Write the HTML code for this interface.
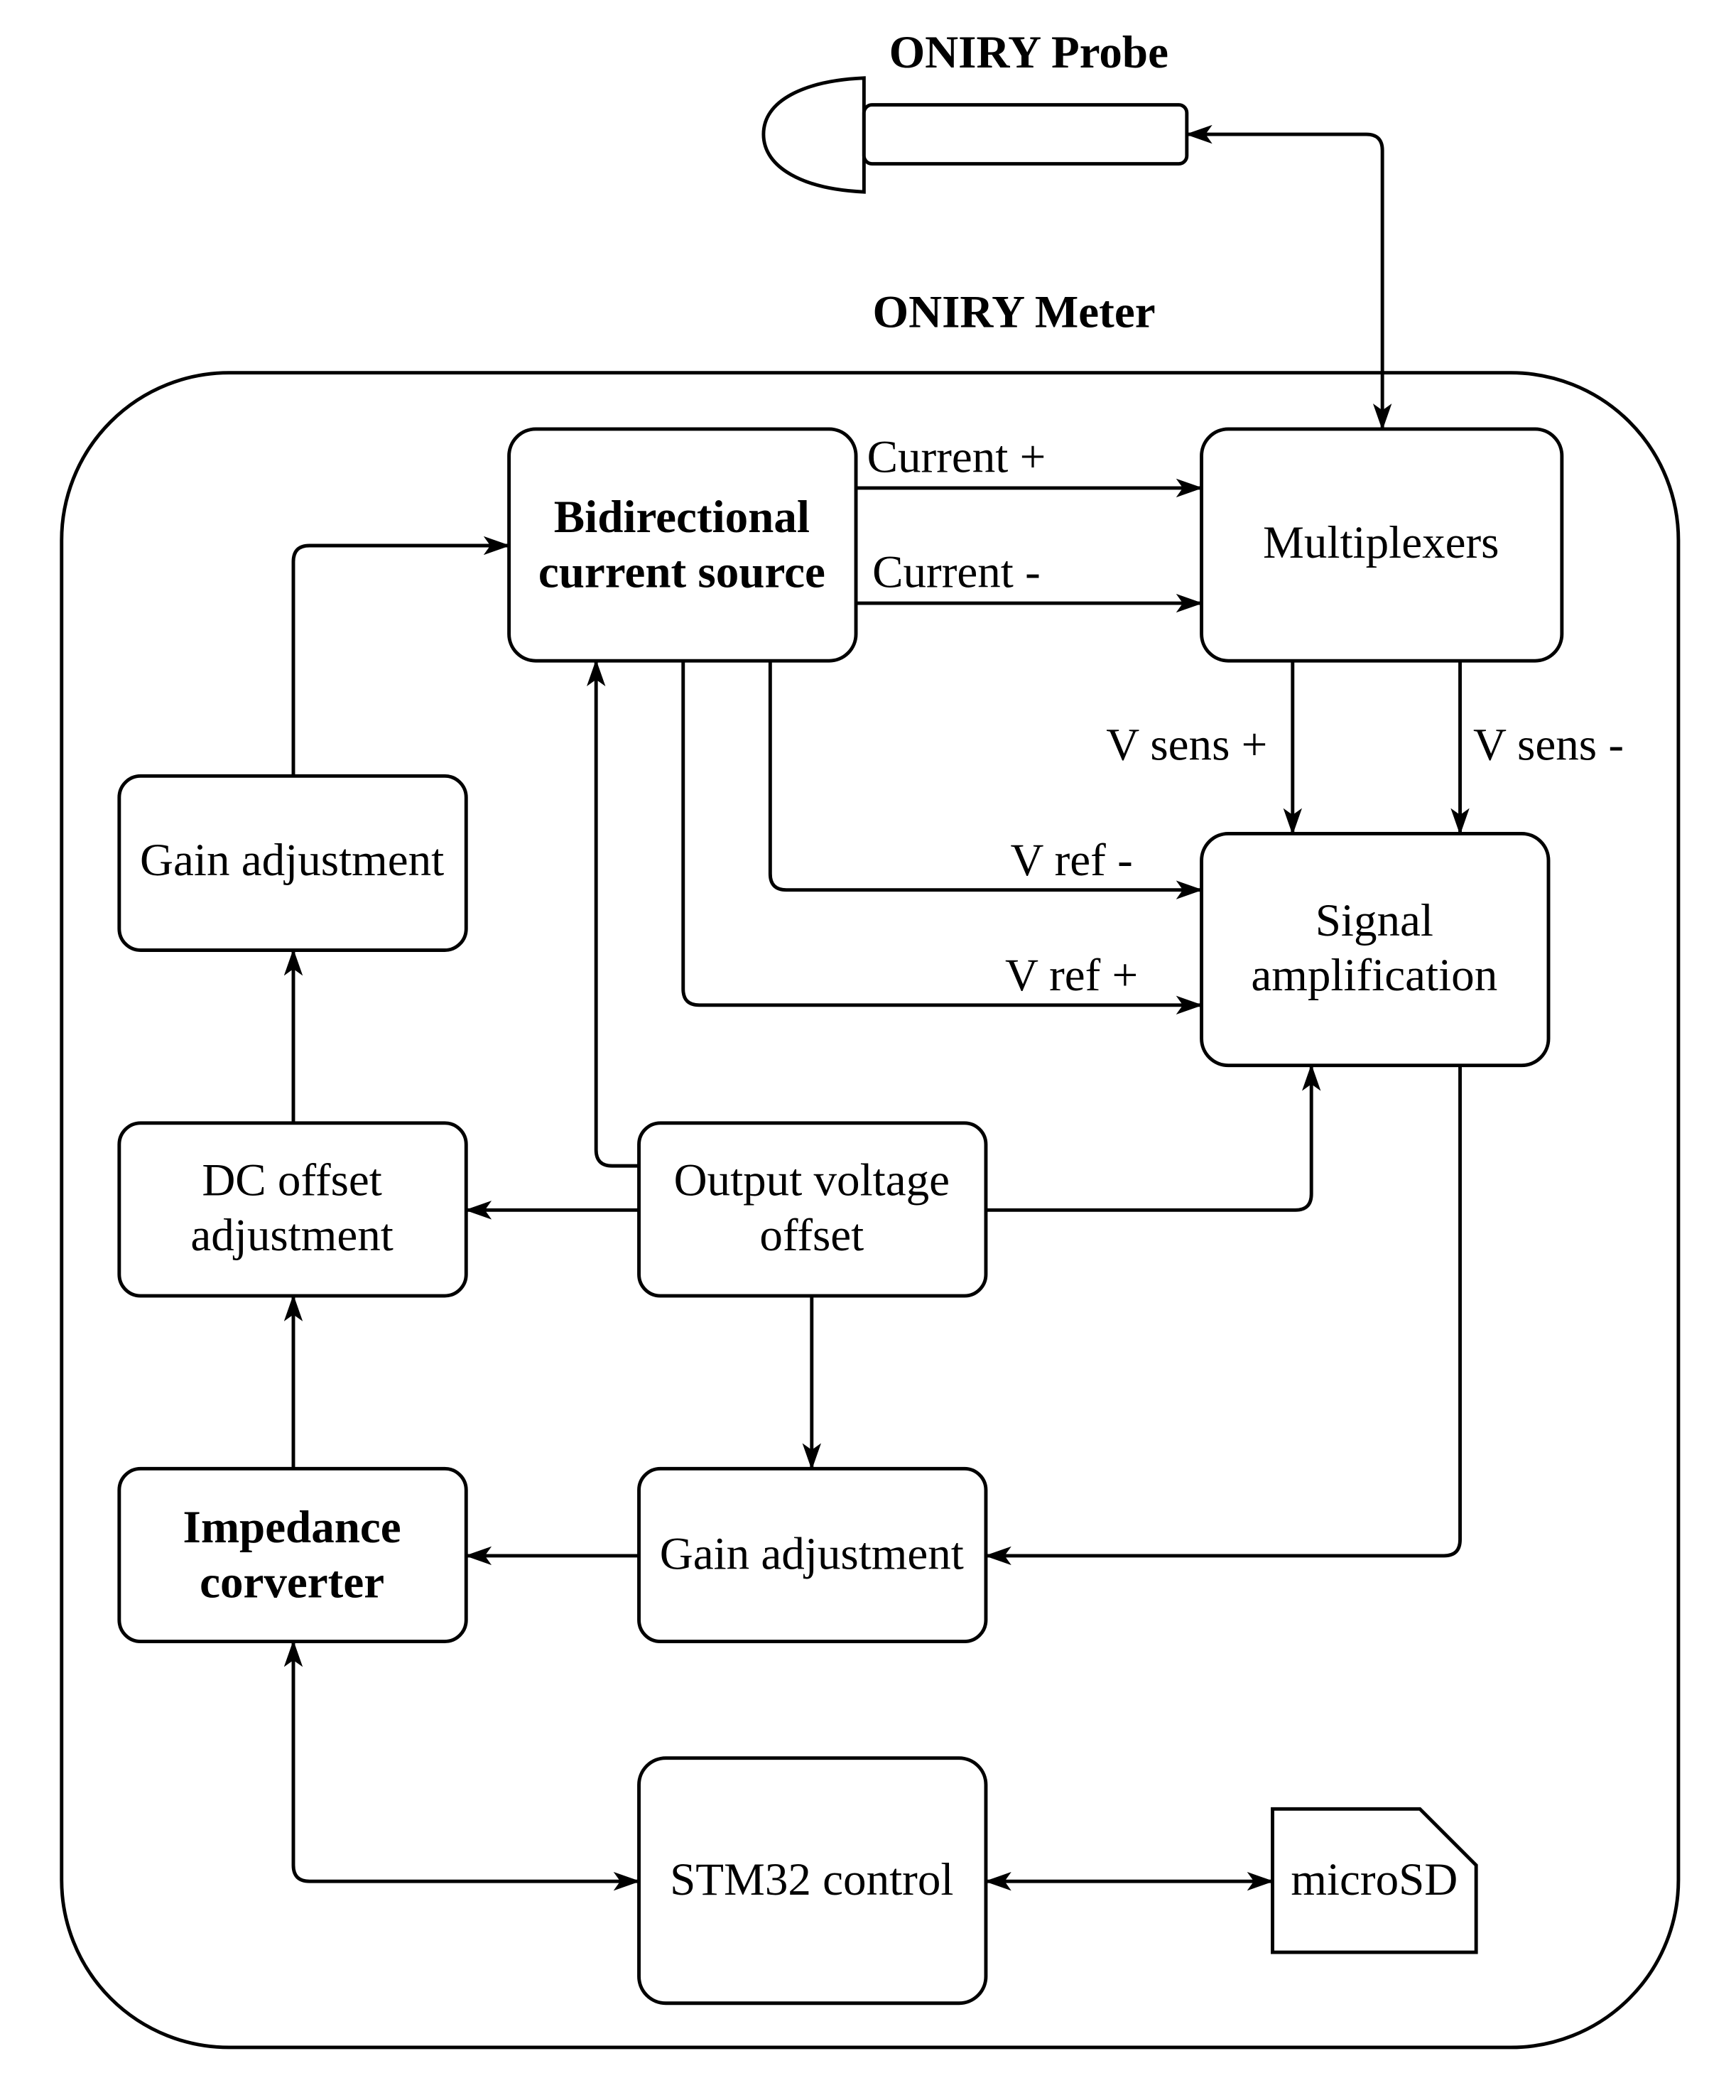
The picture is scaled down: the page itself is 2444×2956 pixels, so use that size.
<!DOCTYPE html>
<html><head><meta charset="utf-8"><style>
html,body{margin:0;padding:0;background:#fff}
svg{display:block}
text{font-family:"Liberation Serif",serif;font-size:34.5px;fill:#000}
.b{font-weight:bold}
</style></head><body>
<svg width="2444" height="2956" viewBox="0 0 1296 1567" xmlns="http://www.w3.org/2000/svg">
<defs>
<marker id="a" viewBox="0 0 20 14" refX="19" refY="7" markerWidth="20" markerHeight="14" markerUnits="userSpaceOnUse" orient="auto-start-reverse">
<path d="M0,0 L20,7 L0,14 L5,7 Z" fill="#000"/>
</marker>
</defs>
<g fill="none" stroke="#000" stroke-width="2.6">
<path d="M645,58 L645,143 C600,141 570,125 570,100 C570,75 600,60 645,58 Z" fill="#fff"/>
<rect x="645" y="78" width="241" height="44" rx="6" fill="#fff"/>
<rect x="46" y="278" width="1207" height="1250" rx="125"/>
<rect x="380" y="320" width="259" height="173" rx="20"/>
<rect x="897" y="320" width="269" height="173" rx="20"/>
<rect x="89" y="579" width="259" height="130" rx="16"/>
<rect x="89" y="838" width="259" height="129" rx="16"/>
<rect x="89" y="1096" width="259" height="129" rx="16"/>
<rect x="477" y="838" width="259" height="129" rx="16"/>
<rect x="477" y="1096" width="259" height="129" rx="16"/>
<rect x="897" y="622" width="259" height="173" rx="20"/>
<rect x="477" y="1312" width="259" height="183" rx="20"/>
<path d="M950,1350 L1060,1350 L1102,1392 L1102,1457 L950,1457 Z"/>
<path d="M1032,320 L1032,112 Q1032,100 1020,100 L886,100" marker-start="url(#a)" marker-end="url(#a)"/>
<path d="M639,364 L897,364" marker-end="url(#a)"/>
<path d="M639,450 L897,450" marker-end="url(#a)"/>
<path d="M219,579 L219,419 Q219,407 231,407 L380,407" marker-end="url(#a)"/>
<path d="M510,493 L510,738 Q510,750 522,750 L897,750" marker-end="url(#a)"/>
<path d="M575,493 L575,652 Q575,664 587,664 L897,664" marker-end="url(#a)"/>
<path d="M477,870 L457,870 Q445,870 445,858 L445,493" marker-end="url(#a)"/>
<path d="M477,903 L348,903" marker-end="url(#a)"/>
<path d="M736,903 L967,903 Q979,903 979,891 L979,795" marker-end="url(#a)"/>
<path d="M606,967 L606,1096" marker-end="url(#a)"/>
<path d="M965,493 L965,622" marker-end="url(#a)"/>
<path d="M1090,493 L1090,622" marker-end="url(#a)"/>
<path d="M1090,795 L1090,1149 Q1090,1161 1078,1161 L736,1161" marker-end="url(#a)"/>
<path d="M477,1161 L348,1161" marker-end="url(#a)"/>
<path d="M219,1096 L219,967" marker-end="url(#a)"/>
<path d="M219,838 L219,709" marker-end="url(#a)"/>
<path d="M219,1225 L219,1392 Q219,1404 231,1404 L477,1404" marker-start="url(#a)" marker-end="url(#a)"/>
<path d="M736,1404 L950,1404" marker-start="url(#a)" marker-end="url(#a)"/>
</g>
<g text-anchor="middle">
<text x="768" y="50" class="b">ONIRY Probe</text>
<text x="757" y="244" class="b">ONIRY Meter</text>
<text x="509" y="397" class="b">Bidirectional</text>
<text x="509" y="438" class="b">current source</text>
<text x="1031" y="416">Multiplexers</text>
<text x="218" y="653">Gain adjustment</text>
<text x="218" y="892">DC offset</text>
<text x="218" y="933">adjustment</text>
<text x="218" y="1151" class="b">Impedance</text>
<text x="218" y="1192" class="b">corverter</text>
<text x="606" y="892">Output voltage</text>
<text x="606" y="933">offset</text>
<text x="606" y="1171">Gain adjustment</text>
<text x="1026" y="698">Signal</text>
<text x="1026" y="739">amplification</text>
<text x="606" y="1414">STM32 control</text>
<text x="1026" y="1414">microSD</text>
<text x="714" y="352">Current +</text>
<text x="714" y="438">Current -</text>
<text x="886" y="567">V sens +</text>
<text x="1156" y="567">V sens -</text>
<text x="800" y="653">V ref -</text>
<text x="800" y="739">V ref +</text>
</g>
</svg>
</body></html>
